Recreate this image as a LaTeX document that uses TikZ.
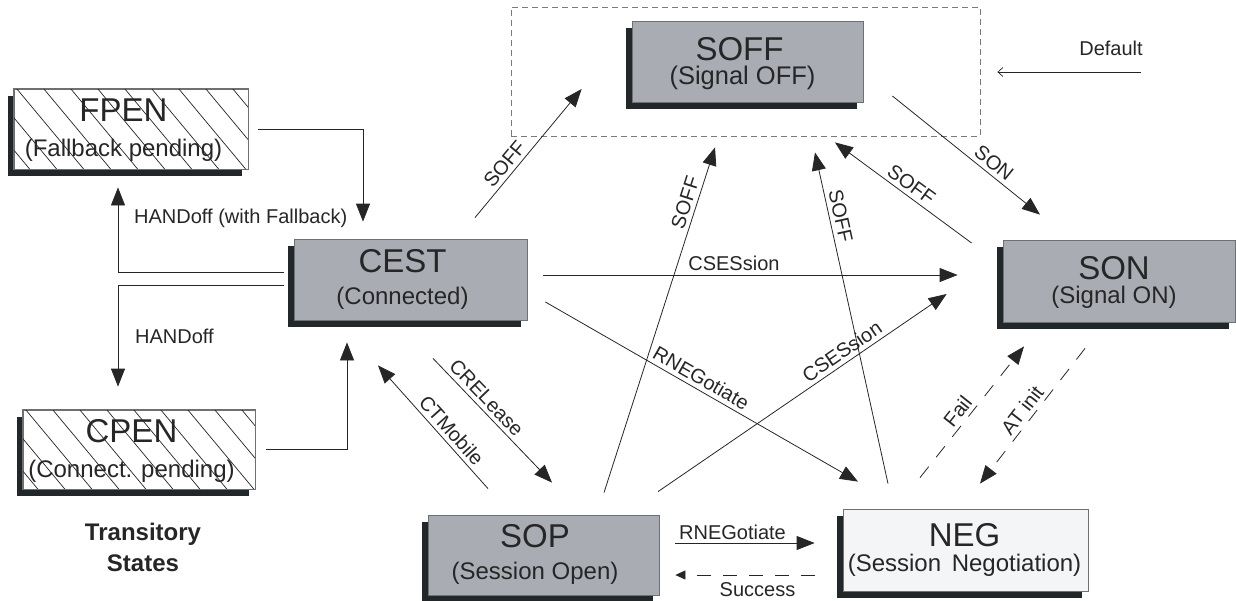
\documentclass[tikz,border=0pt]{standalone}
\usepackage{fontspec}
\setmainfont{Liberation Sans}
\usetikzlibrary{arrows.meta,shadows,calc}

\definecolor{boxgray}{HTML}{A9ACB3}
\definecolor{boxedge}{HTML}{6E7173}
\definecolor{shade}{HTML}{22282A}
\definecolor{ink}{HTML}{262626}
\definecolor{negfill}{HTML}{F4F5F7}
\definecolor{grpedge}{HTML}{7A7A7A}

\tikzset{
  state/.style={draw=boxedge, line width=0.8pt, fill=boxgray, inner sep=0pt,
    drop shadow={shadow xshift=-6pt, shadow yshift=-7pt, fill=shade, opacity=1}},
  ttl/.style={font=\fontsize{33}{36}\selectfont, text=ink, inner sep=0pt},
  sub/.style={font=\fontsize{24}{26}\selectfont, text=ink, inner sep=0pt},
  lbl/.style={font=\fontsize{20}{22}\selectfont, text=ink, inner sep=2pt},
  hatchline/.style={draw=ink, line width=0.7pt},
  arr/.style={draw=ink, line width=0.8pt, -{Triangle[length=18pt,width=14pt]}},
  dasharr/.style={arr, dash pattern=on 14pt off 12pt},
  backarr/.style={draw=ink, line width=0.8pt, dash pattern=on 14pt off 12pt,
    -{Triangle[length=10pt,width=9pt]}},
  defarr/.style={draw=ink, line width=0.7pt, -{Straight Barb[length=5pt,width=9pt]}},
}

% title and subtitle of a state box: node, x offset, two baseline offsets, texts
\newcommand\statetext[6]{%
  \node[ttl, anchor=base] (#1-t) at ($(#1.north)+(#2,#3)$) {#5};
  \node[sub, anchor=base] (#1-s) at ($(#1.north)+(#2,#4)$) {#6};}

% diagonal hatching inside a box
\newcommand\hatchbox[1]{%
  \begin{scope}
    \clip (#1.south west) rectangle (#1.north east);
    \foreach \k in {-4,...,12}
      \draw[hatchline] ($(#1.north west)+(\k*27+3,0)$) -- ++(70,84);
  \end{scope}}

\begin{document}
\begin{tikzpicture}[x=1pt, y=-1pt]
\useasboundingbox (0,0) rectangle (1236,600);

% dashed group around the default state
\node[draw=grpedge, line width=0.8pt, dash pattern=on 6pt off 4pt,
      minimum width=469pt, minimum height=129pt] (offgrp) at (745.5,71.5) {};

% states
\node[state, fill=white, minimum width=234pt, minimum height=80pt] (fpen) at (131,129) {};
\node[state, fill=white, minimum width=232pt, minimum height=79pt] (cpen) at (139,449.5) {};
\node[state, minimum width=233pt, minimum height=81pt] (cest) at (410.5,279.5) {};
\node[state, minimum width=231pt, minimum height=81pt] (soff) at (747.5,61.5) {};
\node[state, minimum width=232pt, minimum height=82pt] (son) at (1119,281) {};
\node[state, minimum width=231pt, minimum height=80pt] (sop) at (543.5,555) {};
\node[state, fill=negfill, minimum width=245pt, minimum height=82pt] (neg) at (965.5,550) {};

\hatchbox{fpen}
\hatchbox{cpen}
\draw[draw=boxedge, line width=0.8pt] (fpen.south west) rectangle (fpen.north east);
\draw[draw=boxedge, line width=0.8pt] (cpen.south west) rectangle (cpen.north east);

\statetext{fpen}{-7.5}{33}{68}{FPEN}{(Fallback pending)}
\statetext{cpen}{-7.5}{33}{68}{CPEN}{(Connect. pending)}
\statetext{cest}{-8}{34}{66}{CEST}{(Connected)}
\node[ttl, anchor=base] (soff-t) at ($(soff.north)+(-8,40)$) {SOFF};
\node[sub, anchor=base, font=\fontsize{25.5}{27}\selectfont] (soff-s) at ($(soff.north)+(-5,64)$) {(Signal OFF)};
\statetext{son}{-5}{40}{64}{SON}{(Signal ON)}
\statetext{sop}{-8.5}{33}{65}{SOP}{(Session Open)}
\statetext{neg}{-1}{38}{63}{NEG}{(Session\hspace{4pt} Negotiation)}

\node[lbl, font=\bfseries\fontsize{24}{26}\selectfont, anchor=base] (trans1) at (143,540) {Transitory};
\node[lbl, font=\bfseries\fontsize{24}{26}\selectfont, anchor=base] (trans2) at (143,571) {States};

% handoff loops on the left
\draw[arr] ($(cest.west)+(-10,-7.5)$) -| ($(fpen.south)+(-13,18)$);
\node[lbl, anchor=base west] (lhf) at (132,223) {HANDoff (with Fallback)};
\draw[arr] ($(fpen.east)+(10,0)$) -| ($(cest.north)+(-47.5,-17)$);
\draw[arr] ($(cest.west)+(-10,5.5)$) -| ($(cpen.north)+(-21,-23)$);
\node[lbl, anchor=base west] (lh) at (133,343) {HANDoff};
\draw[arr] ($(cpen.east)+(11,-0.5)$) -| ($(cest.south)+(-63.5,22)$);

% CEST <-> SOP
\draw[arr] ($(sop.north)+(-55.5,-26)$) -- node[lbl, sloped, above=2pt, pos=0.41] {CTMobile} ($(cest.south)+(-32.5,45)$);
\draw[arr] ($(cest.south)+(22.5,38)$) -- node[lbl, sloped, above=2pt, pos=0.38] {CRELease} ($(sop.north)+(8.5,-32)$);

% transitions into SOFF
\draw[arr] ($(cest.north)+(64.5,-21)$) -- node[lbl, sloped, above=2pt, pos=0.36] {SOFF} ($(soff.west)+(-50,27.5)$);
\draw[arr] ($(sop.north)+(60.5,-22)$) -- node[lbl, sloped, above=2pt, pos=0.83] {SOFF} ($(soff.south)+(-32.5,45)$);
\draw[arr] ($(neg.north)+(-77.5,-25)$) -- node[lbl, sloped, above=2pt, pos=0.80] {SOFF} ($(soff.south)+(67.5,50)$);
\draw[arr] ($(son.west)+(-31,-38)$) -- node[lbl, sloped, above=2pt, pos=0.49] {SOFF} ($(soff.south)+(87.5,40)$);

% SOFF -> SON
\draw[arr] ($(soff.east)+(29,34.5)$) -- node[lbl, sloped, above=2pt, pos=0.64] {SON} ($(son.north)+(-79,-25)$);

% session set-up
\draw[arr] ($(cest.east)+(16,-4.5)$) -- node[lbl, above=2pt, pos=0.46] {CSESsion} ($(son.west)+(-45,-6)$);
\draw[arr] ($(cest.east)+(18,22.5)$) -- node[lbl, sloped, above=2pt, pos=0.48] {RNEGotiate} ($(neg.north)+(-107.5,-27)$);
\draw[arr] ($(sop.north)+(114.5,-23)$) -- node[lbl, sloped, above=2pt, pos=0.66] {CSESsion} ($(son.west)+(-56,13)$);

% SOP <-> NEG
\draw[arr] ($(sop.east)+(16,-12)$) -- node[lbl, above=1pt, pos=0.41] {RNEGotiate} ($(neg.west)+(-28,-7)$);
\draw[backarr] ($(neg.west)+(-28,25)$) -- node[lbl, below=5pt, pos=0.41] {Success} ($(sop.east)+(16,20)$);

% SON <-> NEG
\draw[dasharr] ($(neg.north)+(-45.5,-31)$) -- node[lbl, sloped, above=2pt, pos=0.45] {Fail} ($(son.south)+(-95,24)$);
\draw[dasharr] ($(son.south)+(-34,26)$) -- node[lbl, sloped, above=2pt, pos=0.51] {AT init} ($(neg.north)+(14.5,-25)$);

% default entry
\node[lbl] (deflbl) at (1111,48) {Default};
\draw[defarr] ($(deflbl.center)+(30,24)$) -- ($(offgrp.east)+(17,0.5)$);

\end{tikzpicture}
\end{document}
